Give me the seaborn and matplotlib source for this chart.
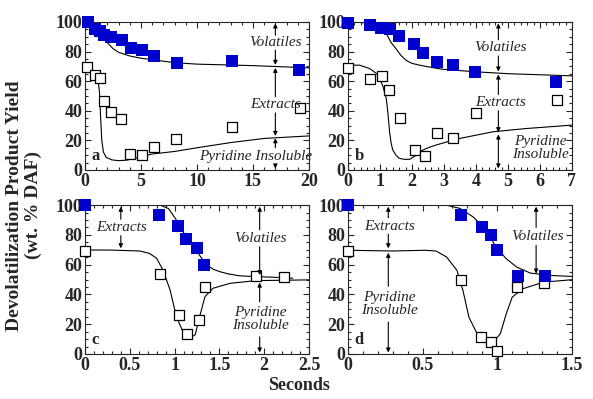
import numpy as np
import pandas as pd
import seaborn as sns
import matplotlib
matplotlib.use('Agg')
import matplotlib.pyplot as plt
from matplotlib.ticker import MultipleLocator, FormatStrFormatter

sns.set_style('ticks')
plt.rcParams['font.family'] = ['Liberation Serif', 'DejaVu Serif']

# ---- panel a ----
a_vol_t = [0.24, 0.9, 1.3, 1.7, 2.3, 3.3, 4.1, 5.1, 6.2, 8.2, 13.1, 19.1]
a_vol_y = [100, 95.5, 94, 91, 90, 88, 82.6, 81, 77, 72, 73.3, 67.4]
a_ext_t = [0.2, 0.9, 1.3, 1.7, 2.3, 3.2, 4.0, 5.1, 6.2, 8.1, 13.1, 19.2]
a_ext_y = [69.5, 64, 62, 46.4, 39, 34.4, 10.9, 10.4, 15.6, 20.8, 28.7, 41.6]
a_up_t = [0, 1.0, 1.5, 2.0, 2.5, 3.0, 4.0, 5.0, 6.0, 8.0, 10, 15, 20]
a_up_y = [100, 97, 92, 86, 82, 79.5, 77, 75.5, 74.5, 72.5, 71.5, 70.5, 69]
a_lo_t = [0, 0.5, 0.9, 1.15, 1.3, 1.4, 1.5, 1.65, 1.9, 2.4, 3.0, 3.7, 4.5, 6, 8, 10, 13, 16, 20]
a_lo_y = [70, 68.5, 66, 62, 52, 35, 20, 12, 8.5, 6.8, 6.3, 6.6, 8, 10.8, 12.5, 15, 18.5, 21.3, 23]

# ---- panel b ----
b_vol_t = [0, 0.68, 1.02, 1.3, 1.61, 2.06, 2.36, 2.77, 3.28, 3.97, 6.51]
b_vol_y = [99.6, 98.2, 96, 95.5, 90.6, 85, 79, 73, 70.8, 66.3, 59.1]
b_ext_t = [0, 0.7, 1.06, 1.27, 1.64, 2.08, 2.42, 2.78, 3.28, 4.01, 6.54]
b_ext_y = [69.2, 61.3, 63.4, 53.7, 35.3, 13.5, 9.7, 24.7, 21.3, 38.7, 47.2]
b_up_t = [0, 1.0, 1.15, 1.2, 1.35, 1.5, 1.65, 1.82, 2.0, 2.24, 2.6, 2.97, 4.0, 5.05, 7]
b_up_y = [100, 99, 96, 92, 86, 82, 77.5, 74, 72, 70.8, 69.3, 68, 66.3, 65, 63.6]
b_lo_t = [0, 0.36, 0.68, 0.9, 1.0, 1.1, 1.2, 1.25, 1.3, 1.35, 1.4, 1.5, 1.6, 1.75, 1.93, 2.1, 2.24, 2.5, 2.76, 3.1, 3.49, 4.0, 4.53, 5.57, 7]
b_lo_y = [70.8, 70.8, 68.5, 65, 61.8, 56, 48, 38, 25.8, 18, 13.5, 10, 7.9, 7.2, 7.2, 9.5, 12.4, 15, 16.9, 19, 21.3, 23.5, 25.8, 28, 30.3]

# ---- panel c ----
c_vol_t = [0, 0.83, 1.04, 1.13, 1.25, 1.33]
c_vol_y = [100, 93.3, 86.2, 77.2, 71.4, 59.8]
c_ext_t = [0, 0.84, 1.05, 1.14, 1.27, 1.34, 1.91, 2.22]
c_ext_y = [69.2, 54, 25.9, 13.6, 23, 44.9, 52.5, 52]
c_up_t = [0.84, 0.93, 0.97, 1.02, 1.07, 1.13, 1.19, 1.24, 1.3, 1.36, 1.43, 1.5, 1.6, 1.73, 1.9, 2.1, 2.32]
c_up_y = [100, 97.8, 94.5, 90, 84.5, 78.8, 74, 69.9, 64.5, 59.8, 57, 55.4, 53.8, 52.5, 52, 51.6, 50.9]
c_lo_t = [0, 0.3, 0.61, 0.72, 0.8, 0.87, 0.95, 1.02, 1.1, 1.17, 1.23, 1.28, 1.34, 1.43, 1.62, 1.91, 2.5]
c_lo_y = [69.9, 69.8, 69.2, 67.6, 64.3, 56.5, 43, 25.2, 14, 10.7, 12.9, 25.2, 38.6, 44.2, 47.5, 49.3, 49.8]

# ---- panel d ----
d_vol_t = [0, 0.76, 0.9, 0.96, 1.0, 1.14, 1.32]
d_vol_y = [100, 93.7, 85, 80.2, 70.1, 52.1, 52.1]
d_ext_t = [0, 0.76, 0.89, 0.96, 1.0, 1.13, 1.31]
d_ext_y = [69, 49.9, 11.2, 7.9, 2.2, 44.9, 47.6]
d_up_t = [0, 0.66, 0.75, 0.84, 0.93, 0.99, 1.06, 1.13, 1.22, 1.35, 1.5]
d_up_y = [100, 100, 97.8, 92, 83, 72, 64, 58.4, 54.4, 52.8, 52.1]
d_lo_t = [0, 0.3, 0.52, 0.59, 0.66, 0.73, 0.77, 0.81, 0.86, 0.93, 0.98, 1.02, 1.06, 1.1, 1.17, 1.31, 1.5]
d_lo_y = [69.7, 69.2, 69.7, 69.2, 65.2, 56.2, 42.7, 24.7, 14.6, 9, 9, 13.5, 27, 38.2, 43.8, 48.3, 49.9]

panels = [
    dict(tag='a', pos=[0.1433, 0.574, 0.3777, 0.371], xmax=20, xmaj=5, xmin=1,
         vol=(a_vol_t, a_vol_y), ext=(a_ext_t, a_ext_y), up=(a_up_t, a_up_y), lo=(a_lo_t, a_lo_y)),
    dict(tag='b', pos=[0.5868, 0.574, 0.3777, 0.371], xmax=7, xmaj=1, xmin=0.2,
         vol=(b_vol_t, b_vol_y), ext=(b_ext_t, b_ext_y), up=(b_up_t, b_up_y), lo=(b_lo_t, b_lo_y)),
    dict(tag='c', pos=[0.1433, 0.1128, 0.3777, 0.373], xmax=2.5, xmaj=0.5, xmin=0.1,
         vol=(c_vol_t, c_vol_y), ext=(c_ext_t, c_ext_y), up=(c_up_t, c_up_y), lo=(c_lo_t, c_lo_y)),
    dict(tag='d', pos=[0.5868, 0.1128, 0.3777, 0.373], xmax=1.5, xmaj=0.5, xmin=0.1,
         vol=(d_vol_t, d_vol_y), ext=(d_ext_t, d_ext_y), up=(d_up_t, d_up_y), lo=(d_lo_t, d_lo_y)),
]

fig = plt.figure(figsize=(5.93, 3.99), dpi=100)
axes = {}
for p in panels:
    ax = fig.add_axes(p['pos'])
    axes[p['tag']] = ax
    sns.lineplot(x=p['up'][0], y=p['up'][1], ax=ax, color='black', lw=0.8, sort=False, estimator=None)
    sns.lineplot(x=p['lo'][0], y=p['lo'][1], ax=ax, color='black', lw=0.8, sort=False, estimator=None)
    sns.scatterplot(x=p['ext'][0], y=p['ext'][1], ax=ax, marker='s', s=62,
                    facecolor='white', edgecolor='black', linewidth=0.9, zorder=3, clip_on=False)
    sns.scatterplot(x=p['vol'][0], y=p['vol'][1], ax=ax, marker='s', s=66,
                    color='#0000cc', edgecolor='#0000cc', linewidth=0, zorder=4, clip_on=False)
    ax.set_xlim(0, p['xmax'])
    ax.set_ylim(0, 100)
    ax.xaxis.set_major_locator(MultipleLocator(p['xmaj']))
    ax.xaxis.set_minor_locator(MultipleLocator(p['xmin']))
    ax.xaxis.set_major_formatter(FormatStrFormatter('%g'))
    ax.yaxis.set_major_locator(MultipleLocator(20))
    ax.yaxis.set_minor_locator(MultipleLocator(5))
    ax.yaxis.set_major_formatter(FormatStrFormatter('%g'))
    ax.tick_params(which='both', direction='in', top=True, right=True, width=0.8)
    ax.tick_params(which='major', length=4, labelsize=13, pad=2)
    ax.tick_params(which='minor', length=2)
    for lab in ax.get_xticklabels() + ax.get_yticklabels():
        lab.set_fontweight('bold')
    for sp in ax.spines.values():
        sp.set_linewidth(0.8)
    ax.text(p['xmax'] * 0.03, 4, p['tag'], fontsize=12, fontweight='bold', ha='left', va='bottom')

ann = dict(fontsize=11, style='italic', ha='center', va='center')


def arrow(ax, x, y0, y1):
    ax.annotate('', xy=(x, y1), xytext=(x, y0),
                arrowprops=dict(arrowstyle='-|>', lw=0.8, color='black',
                                mutation_scale=6, shrinkA=0, shrinkB=0))


# panel a
ax = axes['a']
ax.text(17, 86, 'Volatiles', **ann)
arrow(ax, 17, 91, 99); arrow(ax, 17, 81, 71)
ax.text(17, 44, 'Extracts', **ann)
arrow(ax, 17, 49.5, 69); arrow(ax, 17, 38.5, 23)
ax.text(15.2, 9, 'Pyridine Insoluble', **ann)
arrow(ax, 17, 15, 21.5); arrow(ax, 17, 3.5, 1)

# panel b
ax = axes['b']
ax.text(4.77, 82.5, 'Volatiles', **ann)
arrow(ax, 4.7, 88, 99); arrow(ax, 4.7, 77, 66.5)
ax.text(4.77, 45.4, 'Extracts', **ann)
arrow(ax, 4.7, 51, 64.5); arrow(ax, 4.7, 40, 25.5)
ax.text(6.0, 15, 'Pyridine\nInsoluble', linespacing=1.0, **ann)
arrow(ax, 4.7, 14, 24); arrow(ax, 4.7, 14, 1)

# panel c
ax = axes['c']
ax.text(0.41, 85, 'Extracts', **ann)
arrow(ax, 0.4, 90.5, 99); arrow(ax, 0.4, 79.5, 71)
ax.text(1.96, 77.7, 'Volatiles', **ann)
arrow(ax, 1.95, 83.5, 99); arrow(ax, 1.95, 72, 53)
ax.text(1.96, 23.3, 'Pyridine\nInsoluble', linespacing=1.0, **ann)
arrow(ax, 1.95, 35, 48); arrow(ax, 1.95, 11.5, 1)

# panel d
ax = axes['d']
ax.text(0.28, 86, 'Extracts', **ann)
arrow(ax, 0.27, 91.5, 99); arrow(ax, 0.27, 80.5, 71)
ax.text(0.28, 33.5, 'Pyridine\nInsoluble', linespacing=1.0, **ann)
arrow(ax, 0.27, 45.5, 68); arrow(ax, 0.27, 21.5, 1)
ax.text(1.27, 79, 'Volatiles', **ann)
arrow(ax, 1.26, 85, 99); arrow(ax, 1.26, 73, 54)

fig.text(0.04, 0.485, 'Devolatilization Product Yield\n(wt. % DAF)', rotation=90,
         ha='center', va='center', fontsize=14, fontweight='bold', linespacing=1.15)
fig.text(0.505, 0.035, 'Seconds', ha='center', va='center', fontsize=13, fontweight='bold')

fig.savefig('out.png', dpi=100)
